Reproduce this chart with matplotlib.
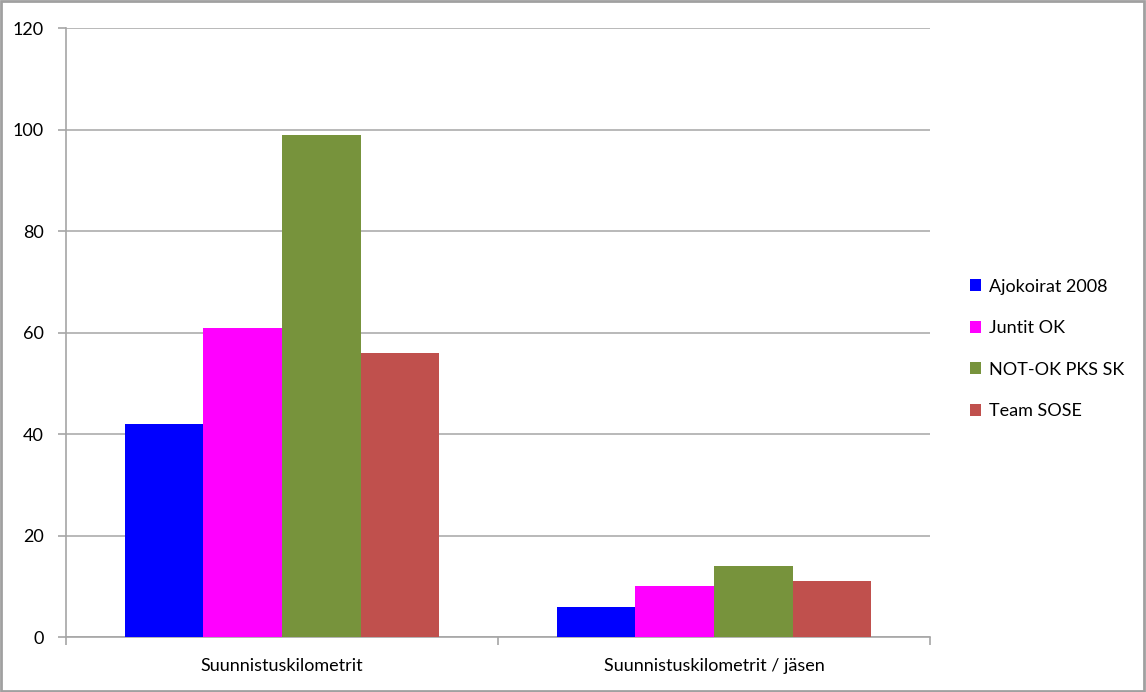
import matplotlib
matplotlib.use("Agg")
import matplotlib.pyplot as plt
import numpy as np
from matplotlib.patches import Rectangle

plt.rcParams["font.family"] = ["Lato", "DejaVu Sans"]

categories = ["Suunnistuskilometrit", "Suunnistuskilometrit / jäsen"]
series = ["Ajokoirat 2008", "Juntit OK", "NOT-OK PKS SK", "Team SOSE"]
values = {
    "Ajokoirat 2008": [42, 6.0],
    "Juntit OK": [61, 10.1],
    "NOT-OK PKS SK": [99, 14.0],
    "Team SOSE": [56, 11.1],
}
colors = ["#0000FF", "#FF00FF", "#77933C", "#C0504D"]

GRID = "#A6A6A6"

fig = plt.figure(figsize=(11.46, 6.92), dpi=100)
ax = fig.add_axes([0.0576, 0.0788, 0.754, 0.8807])

x = np.arange(len(categories))
w = 0.182
for i, (s, c) in enumerate(zip(series, colors)):
    ax.bar(x + (i - 1.5) * w, values[s], w, color=c, label=s, zorder=3, linewidth=0)

ax.set_xlim(-0.5, 1.5)
ax.set_ylim(0, 120)
ax.set_yticks(range(0, 121, 20))
ax.yaxis.grid(True, color=GRID, lw=1.1, zorder=0)
ax.set_xticks([-0.5, 0.5, 1.5])
ax.set_xticklabels([])
ax.set_xticks(x, minor=True)
ax.set_xticklabels(categories, minor=True, fontsize=13)
ax.tick_params(axis="x", which="minor", length=0, pad=15)
ax.tick_params(axis="x", which="major", length=6, color=GRID, width=1.2)
ax.tick_params(axis="y", length=6, color=GRID, width=1.2, labelsize=13, pad=10)
for sp in ("top", "right"):
    ax.spines[sp].set_visible(False)
for sp in ("left", "bottom"):
    ax.spines[sp].set_color(GRID)
    ax.spines[sp].set_linewidth(1.2)

leg = fig.legend(loc="upper left", bbox_to_anchor=(0.832, 0.621), frameon=False,
                 fontsize=13, handlelength=0.65, handleheight=0.65, handletextpad=0.4,
                 labelspacing=1.42)

fig.patches.append(Rectangle((0.001, 0.002), 0.997, 0.996, transform=fig.transFigure,
                             fill=False, edgecolor="#A0A0A0", lw=2))

fig.savefig("out.png", dpi=100, facecolor="white")
